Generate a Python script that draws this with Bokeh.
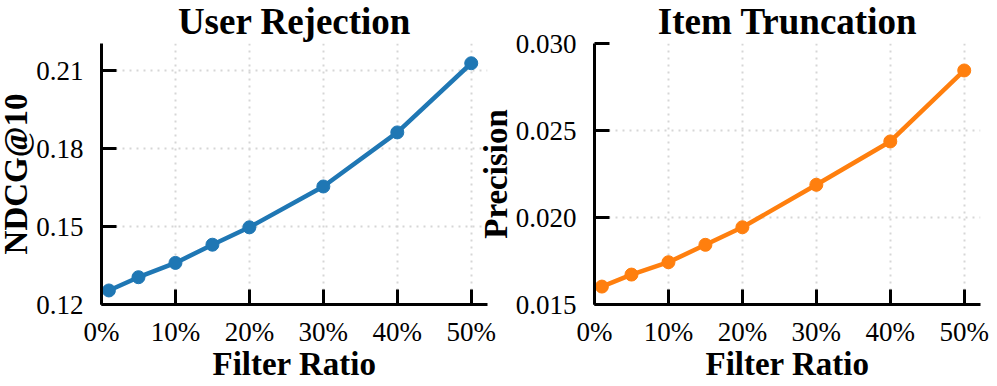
from bokeh.plotting import figure
from bokeh.layouts import row
from bokeh.models import FixedTicker, Range1d, PrintfTickFormatter
from bokeh.embed import file_html
from bokeh.resources import INLINE

# ---- data ----
ratios = [1, 5, 10, 15, 20, 30, 40, 50]
ndcg = [0.1254, 0.1305, 0.1360, 0.1430, 0.1497, 0.1654, 0.1862, 0.2128]
precision = [0.01603, 0.01672, 0.01743, 0.01843, 0.01944, 0.02188, 0.02437, 0.02845]

x_ticks = [0, 10, 20, 30, 40, 50]
x_tick_labels = ["0%", "10%", "20%", "30%", "40%", "50%"]
ndcg_ticks = [0.12, 0.15, 0.18, 0.21]
ndcg_tick_labels = ["0.12", "0.15", "0.18", "0.21"]
prec_ticks = [0.015, 0.020, 0.025, 0.030]
prec_tick_labels = ["0.015", "0.020", "0.025", "0.030"]

FONT = "Liberation Serif"


def make_panel(title, ylabel, xs, ys, color, y_start, y_end, yticks, ylabels,
               yfmt, width, border_left, border_right, margin):
    p = figure(width=width, height=403,
               x_range=Range1d(0, 52.2), y_range=Range1d(y_start, y_end),
               output_backend="svg", toolbar_location=None,
               min_border_left=border_left, min_border_right=border_right,
               min_border_top=60, min_border_bottom=82,
               title=title)
    p.margin = margin
    p.outline_line_color = None
    p.border_fill_alpha = 0
    p.background_fill_color = "white"

    p.title.text_font = FONT
    p.title.text_font_size = "37px"
    p.title.text_font_style = "bold"
    p.title.align = "center"
    p.title.standoff = 3
    p.title.text_color = "black"

    p.xaxis.ticker = FixedTicker(ticks=x_ticks)
    p.xaxis.major_label_overrides = dict(zip(x_ticks, x_tick_labels))
    p.yaxis.ticker = FixedTicker(ticks=yticks)
    p.yaxis.formatter = PrintfTickFormatter(format=yfmt)
    p.yaxis.major_label_overrides = dict(zip(yticks, ylabels))

    for ax in (p.xaxis[0], p.yaxis[0]):
        ax.axis_line_width = 3
        ax.axis_line_color = "black"
        ax.major_tick_line_width = 3
        ax.major_tick_line_color = "black"
        ax.major_tick_in = 15
        ax.major_tick_out = 0
        ax.minor_tick_line_color = None
        ax.major_label_text_font = FONT
        ax.major_label_text_font_size = "27px"
        ax.major_label_text_color = "black"
        ax.axis_label_text_font = FONT
        ax.axis_label_text_font_size = "33px"
        ax.axis_label_text_font_style = "bold"
        ax.axis_label_text_color = "black"

    p.xaxis.axis_label = "Filter Ratio"
    p.yaxis.axis_label = ylabel
    p.xaxis.major_label_standoff = 12
    p.yaxis.major_label_standoff = 18
    p.xaxis.axis_label_standoff = -4
    p.yaxis.axis_label_standoff = -1

    p.grid.grid_line_color = "#d6d6d6"
    p.grid.grid_line_width = 2
    p.grid.grid_line_dash = "2 5"
    p.xgrid.ticker = FixedTicker(ticks=x_ticks)
    p.ygrid.ticker = FixedTicker(ticks=yticks)

    p.line(xs, ys, line_width=4.5, line_color=color)
    p.scatter(xs, ys, size=13, fill_color=color, line_color=color)
    return p


p1 = make_panel("User Rejection", "NDCG@10", ratios, ndcg, "#1f77b4",
                0.12, 0.2204, ndcg_ticks, ndcg_tick_labels, "%.2f",
                520, 120, 14, (-17, 0, 0, -19))
p2 = make_panel("Item Truncation", "Precision", ratios, precision, "#ff7f0e",
                0.015, 0.030, prec_ticks, prec_tick_labels, "%.3f",
                533, 130, 17, (-17, 0, 0, -37))

layout = row(p1, p2)
layout.margin = 0

open("out.html", "w").write(file_html(layout, INLINE))
